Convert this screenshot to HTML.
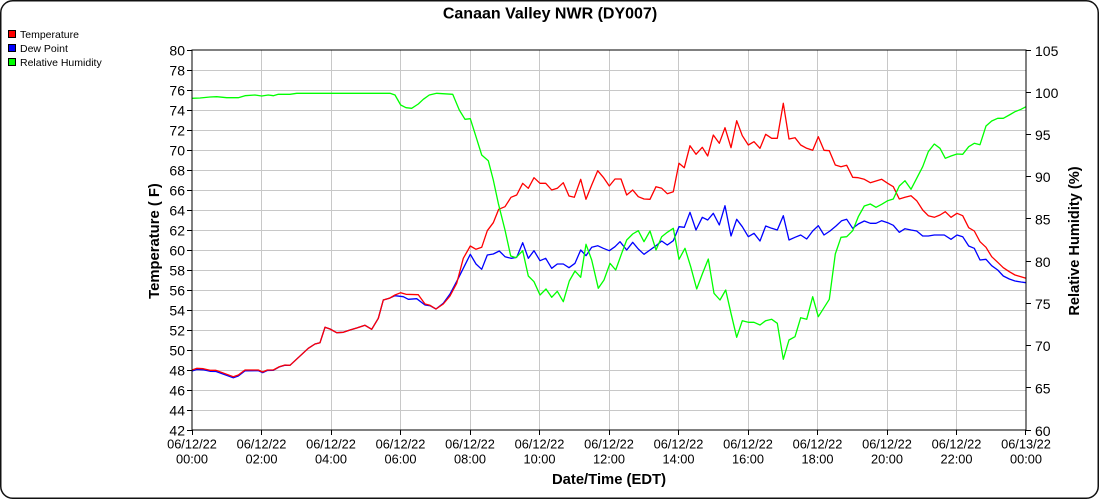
<!DOCTYPE html>
<html>
<head>
<meta charset="utf-8">
<style>
html,body{margin:0;padding:0;background:#fff;}
svg{display:block;}
text{font-family:"Liberation Sans",Arial,sans-serif;fill:#000;}
</style>
</head>
<body>
<svg width="1100" height="500" viewBox="0 0 1100 500" xmlns="http://www.w3.org/2000/svg">
<rect x="0" y="0" width="1100" height="500" fill="#fff"/>
<rect x="0.75" y="0.75" width="1097.5" height="497.5" rx="12" ry="12" fill="none" stroke="#111" stroke-width="1.5"/>

<!-- title -->
<text x="550" y="18.5" font-size="16" font-weight="bold" text-anchor="middle">Canaan Valley NWR (DY007)</text>

<!-- legend -->
<rect x="8.5" y="30.5" width="7" height="7" fill="#ff0000" stroke="#000" stroke-width="1"/>
<text x="20" y="38" font-size="10.5">Temperature</text>
<rect x="8.5" y="44.5" width="7" height="7" fill="#0000ff" stroke="#000" stroke-width="1"/>
<text x="20" y="52" font-size="10.5">Dew Point</text>
<rect x="8.5" y="58.5" width="7" height="7" fill="#00ff00" stroke="#000" stroke-width="1"/>
<text x="20" y="66" font-size="10.5">Relative Humidity</text>

<!-- grid -->
<g stroke="#c8c8c8" stroke-width="1" shape-rendering="crispEdges">
<line x1="192" y1="70.5" x2="1026" y2="70.5"/>
<line x1="192" y1="90.5" x2="1026" y2="90.5"/>
<line x1="192" y1="110.5" x2="1026" y2="110.5"/>
<line x1="192" y1="130.5" x2="1026" y2="130.5"/>
<line x1="192" y1="150.5" x2="1026" y2="150.5"/>
<line x1="192" y1="170.5" x2="1026" y2="170.5"/>
<line x1="192" y1="190.5" x2="1026" y2="190.5"/>
<line x1="192" y1="210.5" x2="1026" y2="210.5"/>
<line x1="192" y1="230.5" x2="1026" y2="230.5"/>
<line x1="192" y1="250.5" x2="1026" y2="250.5"/>
<line x1="192" y1="270.5" x2="1026" y2="270.5"/>
<line x1="192" y1="290.5" x2="1026" y2="290.5"/>
<line x1="192" y1="310.5" x2="1026" y2="310.5"/>
<line x1="192" y1="330.5" x2="1026" y2="330.5"/>
<line x1="192" y1="350.5" x2="1026" y2="350.5"/>
<line x1="192" y1="370.5" x2="1026" y2="370.5"/>
<line x1="192" y1="390.5" x2="1026" y2="390.5"/>
<line x1="192" y1="410.5" x2="1026" y2="410.5"/>
<line x1="261.5" y1="50" x2="261.5" y2="430"/>
<line x1="331.5" y1="50" x2="331.5" y2="430"/>
<line x1="400.5" y1="50" x2="400.5" y2="430"/>
<line x1="470.5" y1="50" x2="470.5" y2="430"/>
<line x1="539.5" y1="50" x2="539.5" y2="430"/>
<line x1="609.5" y1="50" x2="609.5" y2="430"/>
<line x1="678.5" y1="50" x2="678.5" y2="430"/>
<line x1="748.5" y1="50" x2="748.5" y2="430"/>
<line x1="817.5" y1="50" x2="817.5" y2="430"/>
<line x1="887.5" y1="50" x2="887.5" y2="430"/>
<line x1="956.5" y1="50" x2="956.5" y2="430"/>
</g>

<!-- series -->
<g fill="none" stroke-width="1.3" stroke-linejoin="round">
<polyline stroke="#0000ff" points="192,371 196.7,369.5 203.3,369.8 210,371.3 216,371.5 233.3,377.8 238.3,376 245,370.8 258.3,370.7 262.7,372.7 267.3,370.5 273.3,370.3 279.3,366.9 285,365.2 290,365.3 308.3,348.3 315,344 320,342.7 325,327.3 330,329 336.7,332.7 343.3,332.3 350,330 356.7,328 365,325.3 371.7,329.3 378.3,318.3 383.3,300 389.3,298.3 395,295.7 403.3,296.7 408.3,299.3 416.7,298.7 425,305 430,305.7 436,309 443.3,303.3 450,294 458.3,278.3 470.3,254.3 476,264 481.7,269.3 487.3,255 493.3,254 499.3,251 505,256.7 511,258.3 516.7,257.3 522.7,242.7 528.3,258.3 534,250.7 540,260.7 545.7,258.3 551.7,268.3 557.3,264 563.3,264 569,267.7 575,263.3 580.7,250 586,255.7 591.7,247.3 597.7,245.7 603.3,248.3 609.3,250.7 615,246.7 620,241.7 626.7,250 632.7,242.3 638.3,249 644,254.3 650,250 656,245.7 661.7,241 667.3,245 673.3,240.7 679,226.7 684.3,227.3 690,212.3 696,230 702.3,217.3 707.7,220 713.3,213.3 719.3,225 725,205.7 731,236 736.7,219.3 742.3,226.7 748.3,236.7 754,233.3 760,241 765.7,226 771.7,228.3 777.3,230 783.3,215.7 789,240 795,237.3 800.7,235 806.7,239 812.7,231 818.3,225.7 824,235 830,231 836,226 841.7,220.7 846.7,219.3 852.7,228.3 858.3,224 864.3,221 870.3,223.3 876,223.3 881.7,220.7 887.7,222.7 893.3,225.3 899.3,232.3 905,228.7 911,230 916.7,231 922.7,236 928.3,236 934.3,235 944.3,235 951,239.3 957,235 962.7,236.7 968.7,246 974.3,248.3 980,260 986,259.3 991.7,265.7 997.7,270 1003.3,276 1009.3,279 1015,281 1021,282 1026,282.7"/>
<polyline stroke="#ff0000" points="192,370 196.7,368.3 203.3,368.7 210,370.3 216,370.3 233.3,376.7 238.3,375 245,370 258.3,370 262.7,372 267.3,370 273.3,370 279.3,366.7 285,365 290,365.3 308.3,348.3 315,344 320,342.7 325,327.3 330,329 336.7,332.7 343.3,332.3 350,330 356.7,328 365,325.3 371.7,329.3 378.3,318.3 383.3,300 389.3,298.3 395,295 400.7,292.7 406,294.3 418.3,294.7 425,304 430,305.3 436,309 443.3,304 450,296 456.7,283.3 463.3,258.3 470.3,246 476,249.3 481.7,247.3 487.3,230.7 493.3,222.7 498.7,209.3 505,206.7 511,197.3 516.7,195 522.7,183.3 528.3,188.3 534,177.7 540,183.3 545.7,183.3 551.7,190 557.3,188.3 563.3,182.7 569,196 574.3,197.3 580.7,179.3 586,199.3 591.7,185 597.7,170.7 603.3,177.3 609.3,186 615,179 621,179 626.7,195 632.7,190 638.3,196.7 644,199 650,199.3 656,186.7 661.7,188.3 667.3,193.7 673.3,191.7 679,163.3 684.3,167.7 690,145.7 696,154.3 702.3,147.3 707.7,156 713.3,135 719.3,143.3 725,127.7 731,147.7 736.7,120.7 742.3,135.7 748.3,145 754,141.7 760,148.3 765.7,134.3 771.7,138.3 777.3,138.3 783.3,103.3 789,139 795,137.7 800.7,145 806.7,148.3 812.7,150.3 818.3,136.7 824,150.3 829.3,150.7 835.3,165 841,166.7 846.7,165.3 852.7,177.3 858.3,177.7 864.3,179.3 870.3,182.7 876,181 881.7,179.3 887.7,183.3 893.3,186.7 899.3,199 905,197.3 911,195.7 916.7,200.7 922.7,210 928.3,215.7 934.3,217.3 940,215 945.3,211.7 951,217.3 957,213.3 962.7,215.7 968.7,227.7 974.3,231 980,241.7 986,247.3 991.7,256.7 997.7,262.3 1003.3,267.7 1009.3,271.7 1015,275 1021,276.7 1026,278.3"/>
<polyline stroke="#00ff00" points="192,98.3 200,98 210,97 216.7,96.7 226.7,97.7 238.3,97.7 245,95.7 255,95 261.7,96 268.3,95 273.3,95.7 278.3,94.3 290,94.3 296.7,93.3 390,93.3 395,95 400.7,105 406,107.7 411.7,108.3 418.3,104 423.3,99.3 429.3,95 436.7,93.3 452.7,94.3 459.3,110 465,119.3 470.3,118.7 476,136.7 481.7,155 488.3,160.7 493.3,180 498.3,203.3 505,230 510.7,256 516,257.7 522.7,250.7 528.3,276 534,281.7 540,295 546,289 551.7,297.3 557.3,291.3 563.3,301.7 569.3,281 575,271 580.7,277.3 586,244.3 591.7,260 598.3,288.3 604,280 610,263.3 615.7,270 621.7,253.3 626.7,240 632.7,234 638.3,230.7 644,241.7 650,231 656,250 661.7,236.7 667.3,232.3 673.3,228.3 679,259.3 685,248.3 690.7,266.7 696.7,289 702.3,274 708.3,259 714,293.3 720,300 725.7,290 731,313.3 736.7,337.3 742.3,320.7 748.3,322.3 754,322.3 760,325 765.7,320.7 771.7,319.3 777.3,323.3 783.3,359.3 789,340 795,336.7 800.7,317.7 806.7,319.3 812.7,296.7 818.3,316.7 824,307.7 829.3,299.3 835.3,254 841,237.3 846.7,236.7 852.7,230.7 858.3,216.7 864.3,206 870.3,204 876,207.3 881.7,204.3 887.7,200.7 893.3,199 899.3,186 905,180.7 911,189.3 916.7,178.3 922.7,166.7 928.3,151.7 934.3,144 940,148.3 945.3,158.3 951,156 957,154 962.7,154.3 968.7,146.7 974.3,143.3 980,144.7 986,126 991.7,121 997.7,118.3 1003.3,118.3 1009.3,115 1015,111.7 1021,109.3 1026,106.7"/>
</g>

<!-- axes frame -->
<g stroke="#000" stroke-width="1.3" fill="none" shape-rendering="crispEdges">
<rect x="192" y="50" width="834" height="380"/>
</g>
<!-- ticks -->
<g stroke="#000" stroke-width="1" shape-rendering="crispEdges">
<line x1="187" y1="50.5" x2="192" y2="50.5"/>
<line x1="187" y1="70.5" x2="192" y2="70.5"/>
<line x1="187" y1="90.5" x2="192" y2="90.5"/>
<line x1="187" y1="110.5" x2="192" y2="110.5"/>
<line x1="187" y1="130.5" x2="192" y2="130.5"/>
<line x1="187" y1="150.5" x2="192" y2="150.5"/>
<line x1="187" y1="170.5" x2="192" y2="170.5"/>
<line x1="187" y1="190.5" x2="192" y2="190.5"/>
<line x1="187" y1="210.5" x2="192" y2="210.5"/>
<line x1="187" y1="230.5" x2="192" y2="230.5"/>
<line x1="187" y1="250.5" x2="192" y2="250.5"/>
<line x1="187" y1="270.5" x2="192" y2="270.5"/>
<line x1="187" y1="290.5" x2="192" y2="290.5"/>
<line x1="187" y1="310.5" x2="192" y2="310.5"/>
<line x1="187" y1="330.5" x2="192" y2="330.5"/>
<line x1="187" y1="350.5" x2="192" y2="350.5"/>
<line x1="187" y1="370.5" x2="192" y2="370.5"/>
<line x1="187" y1="390.5" x2="192" y2="390.5"/>
<line x1="187" y1="410.5" x2="192" y2="410.5"/>
<line x1="187" y1="430.5" x2="192" y2="430.5"/>
<line x1="1026" y1="50.5" x2="1031" y2="50.5"/>
<line x1="1026" y1="92.5" x2="1031" y2="92.5"/>
<line x1="1026" y1="134.5" x2="1031" y2="134.5"/>
<line x1="1026" y1="176.5" x2="1031" y2="176.5"/>
<line x1="1026" y1="218.5" x2="1031" y2="218.5"/>
<line x1="1026" y1="261.5" x2="1031" y2="261.5"/>
<line x1="1026" y1="303.5" x2="1031" y2="303.5"/>
<line x1="1026" y1="345.5" x2="1031" y2="345.5"/>
<line x1="1026" y1="387.5" x2="1031" y2="387.5"/>
<line x1="1026" y1="430.5" x2="1031" y2="430.5"/>
<line x1="192.5" y1="430" x2="192.5" y2="435"/>
<line x1="261.5" y1="430" x2="261.5" y2="435"/>
<line x1="331.5" y1="430" x2="331.5" y2="435"/>
<line x1="400.5" y1="430" x2="400.5" y2="435"/>
<line x1="470.5" y1="430" x2="470.5" y2="435"/>
<line x1="539.5" y1="430" x2="539.5" y2="435"/>
<line x1="609.5" y1="430" x2="609.5" y2="435"/>
<line x1="678.5" y1="430" x2="678.5" y2="435"/>
<line x1="748.5" y1="430" x2="748.5" y2="435"/>
<line x1="817.5" y1="430" x2="817.5" y2="435"/>
<line x1="887.5" y1="430" x2="887.5" y2="435"/>
<line x1="956.5" y1="430" x2="956.5" y2="435"/>
<line x1="1025.5" y1="430" x2="1025.5" y2="435"/>
</g>

<!-- left tick labels -->
<g font-size="14" text-anchor="end">
<text x="185" y="55.5">80</text>
<text x="185" y="75.5">78</text>
<text x="185" y="95.5">76</text>
<text x="185" y="115.5">74</text>
<text x="185" y="135.5">72</text>
<text x="185" y="155.5">70</text>
<text x="185" y="175.5">68</text>
<text x="185" y="195.5">66</text>
<text x="185" y="215.5">64</text>
<text x="185" y="235.5">62</text>
<text x="185" y="255.5">60</text>
<text x="185" y="275.5">58</text>
<text x="185" y="295.5">56</text>
<text x="185" y="315.5">54</text>
<text x="185" y="335.5">52</text>
<text x="185" y="355.5">50</text>
<text x="185" y="375.5">48</text>
<text x="185" y="395.5">46</text>
<text x="185" y="415.5">44</text>
<text x="185" y="435.5">42</text>
</g>

<!-- right tick labels -->
<g font-size="14" text-anchor="start">
<text x="1035" y="56">105</text>
<text x="1035" y="98">100</text>
<text x="1035" y="140">95</text>
<text x="1035" y="182">90</text>
<text x="1035" y="224.5">85</text>
<text x="1035" y="267">80</text>
<text x="1035" y="309">75</text>
<text x="1035" y="351">70</text>
<text x="1035" y="393.5">65</text>
<text x="1035" y="436">60</text>
</g>

<!-- x tick labels -->
<g font-size="12.8" text-anchor="middle">
<text x="192" y="448.5">06/12/22</text><text x="192" y="463.5">00:00</text>
<text x="261.5" y="448.5">06/12/22</text><text x="261.5" y="463.5">02:00</text>
<text x="331" y="448.5">06/12/22</text><text x="331" y="463.5">04:00</text>
<text x="400.5" y="448.5">06/12/22</text><text x="400.5" y="463.5">06:00</text>
<text x="470" y="448.5">06/12/22</text><text x="470" y="463.5">08:00</text>
<text x="539.5" y="448.5">06/12/22</text><text x="539.5" y="463.5">10:00</text>
<text x="609" y="448.5">06/12/22</text><text x="609" y="463.5">12:00</text>
<text x="678.5" y="448.5">06/12/22</text><text x="678.5" y="463.5">14:00</text>
<text x="748" y="448.5">06/12/22</text><text x="748" y="463.5">16:00</text>
<text x="817.5" y="448.5">06/12/22</text><text x="817.5" y="463.5">18:00</text>
<text x="887" y="448.5">06/12/22</text><text x="887" y="463.5">20:00</text>
<text x="956.5" y="448.5">06/12/22</text><text x="956.5" y="463.5">22:00</text>
<text x="1026" y="448.5">06/13/22</text><text x="1026" y="463.5">00:00</text>
</g>

<!-- axis titles -->
<text x="609" y="484" font-size="14.8" font-weight="bold" text-anchor="middle">Date/Time (EDT)</text>
<text transform="translate(159,241) rotate(-90)" font-size="14.8" font-weight="bold" text-anchor="middle">Temperature ( F)</text>
<text transform="translate(1079,241) rotate(-90)" font-size="14.6" font-weight="bold" text-anchor="middle">Relative Humidity (%)</text>
</svg>
</body>
</html>
